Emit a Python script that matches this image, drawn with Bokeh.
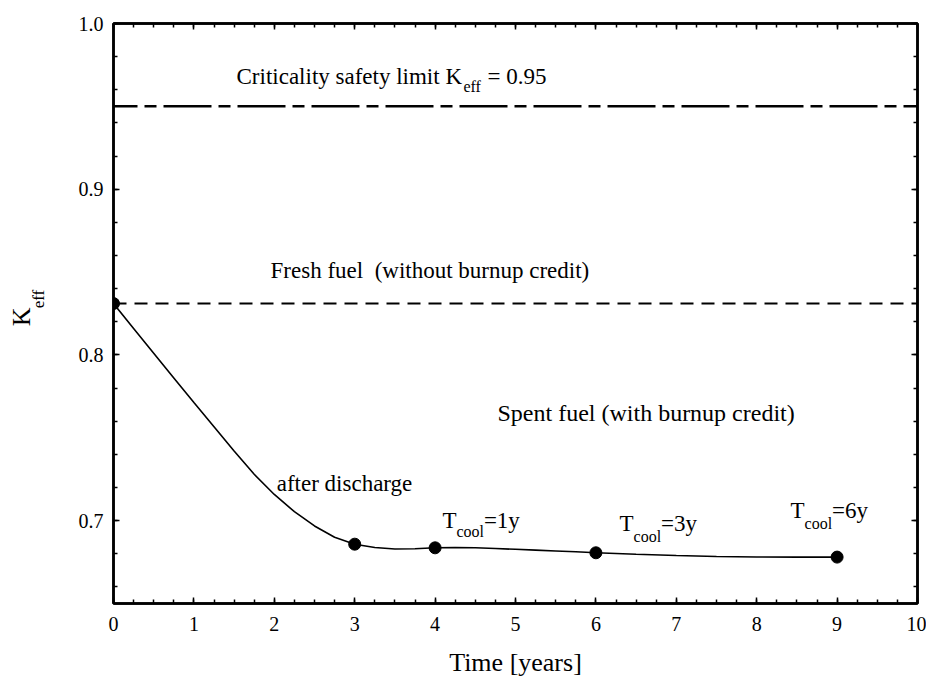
import math
from bokeh.plotting import figure
from bokeh.layouts import row
from bokeh.models import Span, Label, LinearAxis, FixedTicker, PrintfTickFormatter, Range1d, CustomJSTickFormatter
from bokeh.core.properties import value
from bokeh.embed import file_html
from bokeh.resources import INLINE

# ---- data ----
point_years = [0, 3, 4, 6, 9]
point_keff = [0.831, 0.6858, 0.6836, 0.6806, 0.678]

curve_years = [0, 0.25, 0.5, 0.75, 1.0, 1.25, 1.5, 1.75, 2.0, 2.25, 2.5, 2.75, 3.0,
               3.25, 3.5, 3.75, 4.0, 4.25, 4.5, 4.75, 5.0, 5.25, 5.5, 5.75, 6.0,
               6.5, 7.0, 7.5, 8.0, 8.5, 9.0]
curve_keff = [0.831, 0.816, 0.801, 0.7861, 0.7713, 0.7567, 0.7420, 0.7280, 0.7158,
              0.7054, 0.6968, 0.6900, 0.6858, 0.6838, 0.6829, 0.6830, 0.6836,
              0.6837, 0.6836, 0.6832, 0.6827, 0.6822, 0.6817, 0.6812, 0.6806,
              0.6797, 0.6790, 0.6784, 0.6781, 0.6780, 0.6780]

limit_keff = 0.95
fresh_keff = 0.831

x_ticks = [0, 1, 2, 3, 4, 5, 6, 7, 8, 9, 10]
x_minor = [i * 0.25 for i in range(41)]
y_ticks = [0.7, 0.8, 0.9, 1.0]
y_minor = [round(0.66 + 0.02 * i, 2) for i in range(18)]

FONT = "Liberation Serif"
H = 682
LW = 64

p = figure(width=926 - LW, height=H, x_range=Range1d(0, 10), y_range=Range1d(0.65, 1.0),
           output_backend="svg", toolbar_location=None,
           min_border_left=113 - LW, min_border_right=9, min_border_top=23, min_border_bottom=79)
p.xgrid.visible = False
p.ygrid.visible = False
p.outline_line_color = "black"
p.outline_line_width = 2.5
p.background_fill_color = "white"
p.border_fill_color = "white"

p.add_layout(LinearAxis(), "above")
p.add_layout(LinearAxis(), "right")

for ax in p.xaxis:
    ax.ticker = FixedTicker(ticks=x_ticks, minor_ticks=x_minor)
for ax in p.yaxis:
    ax.ticker = FixedTicker(ticks=y_ticks, minor_ticks=y_minor)
    ax.formatter = PrintfTickFormatter(format="%.1f")

for ax in p.xaxis + p.yaxis:
    ax.axis_line_color = "black"
    ax.axis_line_width = 2.5
    ax.major_tick_in = 6
    ax.major_tick_out = 0
    ax.minor_tick_in = 4
    ax.minor_tick_out = 0
    ax.major_tick_line_width = 1.5
    ax.minor_tick_line_width = 1.5
    ax.major_tick_line_color = "black"
    ax.minor_tick_line_color = "black"
    ax.major_label_text_font = FONT
    ax.major_label_text_font_size = "20px"
    ax.major_label_text_color = "black"

for ax in p.above + p.right:
    ax.formatter = CustomJSTickFormatter(code="return ''")
    ax.major_label_standoff = 0

bx = p.below[0]
bx.major_label_standoff = 13
bx.axis_label = "Time [years]"
bx.axis_label_text_font = FONT
bx.axis_label_text_font_size = "26px"
bx.axis_label_text_font_style = "normal"
bx.axis_label_text_color = "black"
bx.axis_label_standoff = 14

ly = p.left[0]
ly.major_label_standoff = 10

# reference lines
p.add_layout(Span(location=limit_keff, dimension="width", line_color="black",
                  line_width=2.5, line_dash="48 7 12 7", line_dash_offset=24))
p.add_layout(Span(location=fresh_keff, dimension="width", line_color="black",
                  line_width=2, line_dash="13 8"))

# curve and points
p.line(curve_years, curve_keff, line_color="black", line_width=1.6)
p.scatter(point_years, point_keff, size=12, fill_color="black", line_color="black")


def lab(x, y, t, size="23px"):
    p.add_layout(Label(x=x, y=y, text=t, text_font=FONT, text_font_size=size,
                       text_color="black", text_baseline="alphabetic",
                       text_align="left"))


SUB = "16px"
lab(1.53, 0.968, "Criticality safety limit K")
lab(4.353, 0.962, "eff", SUB)
lab(4.652, 0.968, "= 0.95")

lab(1.953, 0.851, "Fresh fuel \u00a0(without burnup credit)")
lab(4.776, 0.765, "Spent fuel (with burnup credit)", "24px")
lab(2.03, 0.7224, "after discharge")

lab(4.092, 0.700, "T")
lab(4.266, 0.6934, "cool", SUB)
lab(4.607, 0.700, "=1y")

lab(6.294, 0.6983, "T")
lab(6.468, 0.6904, "cool", SUB)
lab(6.81, 0.6983, "=3y")

lab(8.42, 0.7061, "T")
lab(8.595, 0.6983, "cool", SUB)
lab(8.937, 0.7061, "=6y")

# y axis title K_eff (rotated), in a narrow strip left of the plot
q = figure(width=LW, height=H, x_range=Range1d(0, LW), y_range=Range1d(0, H),
           output_backend="svg", toolbar_location=None, min_border=0,
           x_axis_type=None, y_axis_type=None)
q.outline_line_color = None
q.xgrid.visible = False
q.ygrid.visible = False
q.background_fill_color = "white"
q.border_fill_color = "white"
q.text(x=[21], y=[H - 345], text=["K"], angle=math.pi / 2, text_font=value(FONT),
       text_font_size="26px", text_color="black", text_baseline="middle", text_align="center")
q.text(x=[37.5], y=[H - 324], text=["eff"], angle=math.pi / 2, text_font=value(FONT),
       text_font_size="17px", text_color="black", text_baseline="middle", text_align="center")

layout = row(q, p)
open("out.html", "w").write(file_html(layout, INLINE))
